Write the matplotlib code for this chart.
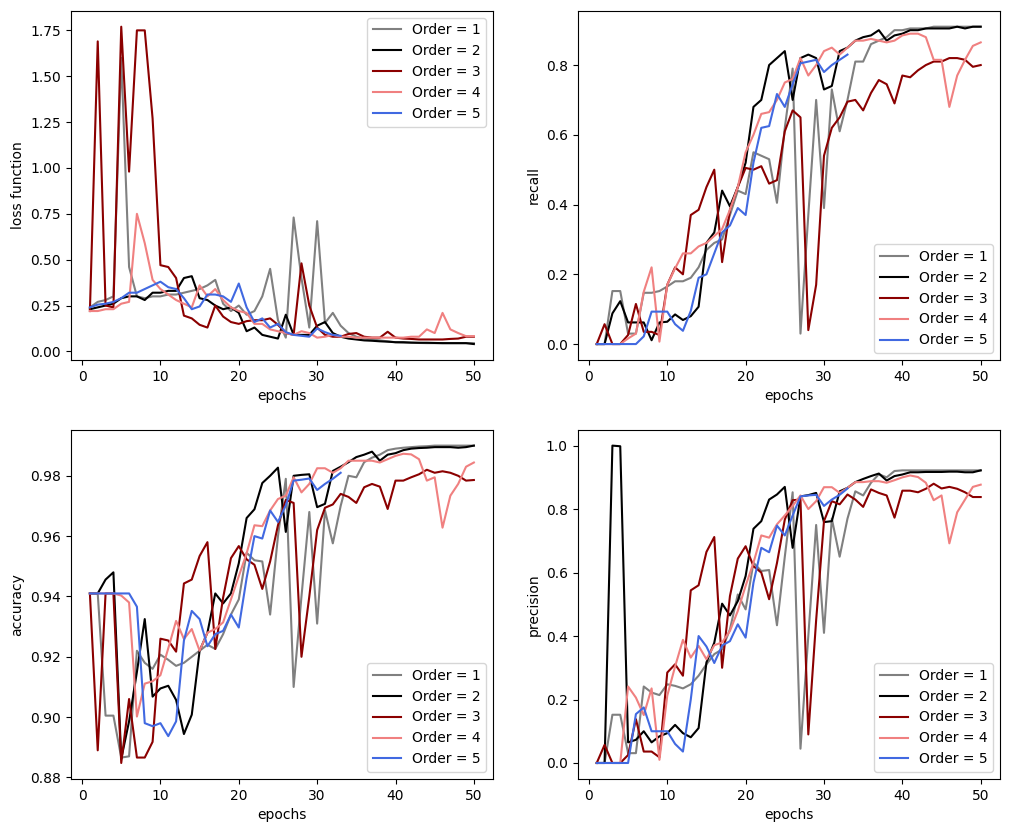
import matplotlib
matplotlib.use('Agg')
from matplotlib import pyplot as plt

epochs = list(range(1, 51))
epochs_short = list(range(1, 34))

order_labels = ['Order = 1', 'Order = 2', 'Order = 3', 'Order = 4', 'Order = 5']
order_colors = ['gray', 'black', 'darkred', 'lightcoral', 'royalblue']

# loss function
loss_1 = [0.24, 0.27, 0.28, 0.30, 1.60, 0.46, 0.30, 0.29, 0.30, 0.30,
          0.31, 0.31, 0.32, 0.33, 0.34, 0.36, 0.39, 0.26, 0.22, 0.25,
          0.20, 0.22, 0.30, 0.45, 0.17, 0.075, 0.73, 0.40, 0.13, 0.71,
          0.155, 0.21, 0.14, 0.10, 0.08, 0.07, 0.065, 0.06, 0.055, 0.05,
          0.048, 0.047, 0.046, 0.045, 0.045, 0.045, 0.045, 0.045, 0.045, 0.045]
loss_2 = [0.23, 0.24, 0.25, 0.26, 0.29, 0.30, 0.30, 0.28, 0.32, 0.32,
          0.33, 0.33, 0.40, 0.41, 0.29, 0.28, 0.25, 0.23, 0.24, 0.21,
          0.11, 0.13, 0.09, 0.08, 0.07, 0.20, 0.09, 0.09, 0.09, 0.14,
          0.16, 0.10, 0.08, 0.07, 0.065, 0.06, 0.058, 0.055, 0.053, 0.05,
          0.05, 0.048, 0.047, 0.047, 0.046, 0.045, 0.045, 0.045, 0.045, 0.04]
loss_3 = [0.22, 1.69, 0.25, 0.24, 1.77, 0.98, 1.75, 1.75, 1.27, 0.47,
          0.46, 0.40, 0.195, 0.18, 0.145, 0.13, 0.25, 0.19, 0.16, 0.15,
          0.165, 0.17, 0.17, 0.18, 0.145, 0.10, 0.09, 0.48, 0.25, 0.13,
          0.09, 0.08, 0.08, 0.095, 0.10, 0.08, 0.075, 0.075, 0.107, 0.075,
          0.07, 0.068, 0.065, 0.065, 0.065, 0.065, 0.068, 0.07, 0.08, 0.08]
loss_4 = [0.22, 0.22, 0.23, 0.23, 0.26, 0.27, 0.75, 0.59, 0.39, 0.34,
          0.31, 0.28, 0.26, 0.24, 0.36, 0.30, 0.34, 0.28, 0.24, 0.22,
          0.21, 0.15, 0.15, 0.12, 0.11, 0.10, 0.09, 0.11, 0.10, 0.075,
          0.08, 0.09, 0.08, 0.08, 0.075, 0.075, 0.075, 0.075, 0.075, 0.075,
          0.075, 0.08, 0.08, 0.12, 0.10, 0.21, 0.12, 0.10, 0.083, 0.083]
loss_5 = [0.24, 0.255, 0.26, 0.27, 0.29, 0.32, 0.32, 0.34, 0.36, 0.38,
          0.35, 0.34, 0.29, 0.23, 0.245, 0.31, 0.31, 0.30, 0.27, 0.37,
          0.24, 0.16, 0.18, 0.13, 0.15, 0.105, 0.09, 0.085, 0.08, 0.125,
          0.105, 0.09, 0.085]

# recall
recall_1 = [0, 0, 0.152, 0.152, 0.03, 0.03, 0.147, 0.147, 0.152, 0.165,
            0.18, 0.18, 0.19, 0.22, 0.27, 0.29, 0.30, 0.37, 0.44, 0.43,
            0.55, 0.54, 0.53, 0.405, 0.62, 0.79, 0.03, 0.37, 0.70, 0.39,
            0.73, 0.61, 0.70, 0.81, 0.81, 0.86, 0.87, 0.88, 0.90, 0.90,
            0.905, 0.905, 0.905, 0.91, 0.91, 0.91, 0.91, 0.91, 0.91, 0.91]
recall_2 = [0, 0, 0.088, 0.123, 0.062, 0.062, 0.062, 0.011, 0.062, 0.064,
            0.085, 0.069, 0.08, 0.107, 0.29, 0.32, 0.44, 0.395, 0.45, 0.52,
            0.68, 0.70, 0.80, 0.82, 0.84, 0.70, 0.82, 0.83, 0.82, 0.73,
            0.74, 0.84, 0.85, 0.87, 0.88, 0.885, 0.90, 0.87, 0.885, 0.89,
            0.90, 0.90, 0.905, 0.905, 0.905, 0.905, 0.91, 0.905, 0.91, 0.91]
recall_3 = [0, 0.057, 0, 0, 0.026, 0.115, 0.035, 0.035, 0.026, 0.17,
            0.22, 0.20, 0.37, 0.385, 0.45, 0.50, 0.235, 0.385, 0.45, 0.505,
            0.50, 0.51, 0.46, 0.47, 0.61, 0.67, 0.65, 0.04, 0.17, 0.54,
            0.62, 0.65, 0.695, 0.70, 0.67, 0.72, 0.757, 0.745, 0.69, 0.77,
            0.765, 0.785, 0.80, 0.81, 0.81, 0.82, 0.82, 0.815, 0.795, 0.80]
recall_4 = [0, 0, 0, 0, 0.016, 0.03, 0.15, 0.22, 0.007, 0.17,
            0.217, 0.26, 0.26, 0.28, 0.29, 0.31, 0.33, 0.385, 0.45, 0.55,
            0.60, 0.66, 0.665, 0.70, 0.75, 0.76, 0.82, 0.77, 0.80, 0.84,
            0.85, 0.83, 0.85, 0.87, 0.87, 0.875, 0.87, 0.865, 0.87, 0.885,
            0.89, 0.89, 0.88, 0.815, 0.815, 0.68, 0.77, 0.815, 0.855, 0.865]
recall_5 = [0, 0, 0, 0, 0, 0, 0.022, 0.093, 0.093, 0.093,
            0.057, 0.038, 0.095, 0.19, 0.20, 0.26, 0.32, 0.34, 0.39, 0.37,
            0.52, 0.62, 0.625, 0.717, 0.68, 0.745, 0.805, 0.81, 0.815, 0.78,
            0.80, 0.815, 0.83]

# accuracy
acc_1 = [0.941, 0.941, 0.9005, 0.9005, 0.8866, 0.887, 0.922, 0.918, 0.916, 0.9207,
         0.919, 0.917, 0.918, 0.920, 0.922, 0.924, 0.9226, 0.9275, 0.934, 0.939,
         0.9545, 0.952, 0.9516, 0.934, 0.960, 0.979, 0.910, 0.940, 0.968, 0.931,
         0.9685, 0.9576, 0.970, 0.980, 0.9795, 0.9845, 0.986, 0.987, 0.9885, 0.989,
         0.9893, 0.9895, 0.9897, 0.9898, 0.990, 0.990, 0.990, 0.990, 0.990, 0.990]
acc_2 = [0.941, 0.941, 0.9456, 0.948, 0.8862, 0.8986, 0.915, 0.9325, 0.9068, 0.9095,
         0.9104, 0.9057, 0.8944, 0.9008, 0.922, 0.928, 0.941, 0.9377, 0.941, 0.951,
         0.966, 0.9689, 0.9776, 0.980, 0.9827, 0.9614, 0.980, 0.9803, 0.9805, 0.9696,
         0.9707, 0.9816, 0.983, 0.9845, 0.9862, 0.987, 0.988, 0.985, 0.987, 0.9875,
         0.9885, 0.989, 0.9892, 0.9893, 0.9895, 0.9895, 0.9895, 0.9893, 0.9895, 0.990]
acc_3 = [0.941, 0.889, 0.941, 0.941, 0.8848, 0.906, 0.8866, 0.8866, 0.8918, 0.926,
         0.9254, 0.9217, 0.9443, 0.9456, 0.9534, 0.958, 0.9226, 0.9396, 0.9527, 0.9567,
         0.9523, 0.9505, 0.9425, 0.9516, 0.9636, 0.972, 0.971, 0.920, 0.940, 0.962,
         0.9694, 0.9705, 0.974, 0.973, 0.971, 0.9762, 0.9773, 0.9764, 0.969, 0.9784,
         0.9784, 0.9795, 0.9805, 0.982, 0.981, 0.9815, 0.981, 0.980, 0.9784, 0.9786]
acc_4 = [0.941, 0.941, 0.941, 0.941, 0.9403, 0.938, 0.9002, 0.9111, 0.9119, 0.9139,
         0.9228, 0.9319, 0.9259, 0.9292, 0.922, 0.928, 0.9292, 0.9314, 0.939, 0.9467,
         0.9543, 0.9636, 0.9633, 0.9685, 0.9723, 0.9734, 0.9795, 0.9745, 0.9773, 0.9825,
         0.9825, 0.981, 0.9825, 0.985, 0.985, 0.985, 0.985, 0.9844, 0.9855, 0.9866,
         0.9873, 0.9871, 0.9855, 0.9784, 0.9795, 0.9628, 0.9734, 0.9773, 0.983, 0.9844]
acc_5 = [0.941, 0.941, 0.941, 0.941, 0.941, 0.941, 0.9366, 0.898, 0.897, 0.898,
         0.8937, 0.8986, 0.9254, 0.9352, 0.9325, 0.9235, 0.9275, 0.9286, 0.934, 0.9297,
         0.9461, 0.960, 0.9592, 0.9685, 0.9647, 0.9702, 0.9784, 0.9787, 0.9791, 0.9753,
         0.9773, 0.979, 0.981]

# precision
prec_1 = [0, 0, 0.152, 0.152, 0.031, 0.031, 0.241, 0.222, 0.214, 0.248,
          0.243, 0.235, 0.248, 0.275, 0.311, 0.343, 0.358, 0.421, 0.531, 0.484,
          0.631, 0.605, 0.608, 0.434, 0.65, 0.853, 0.045, 0.40, 0.75, 0.41,
          0.77, 0.65, 0.77, 0.856, 0.843, 0.883, 0.91, 0.90, 0.92, 0.922,
          0.922, 0.922, 0.922, 0.922, 0.922, 0.922, 0.922, 0.922, 0.922, 0.922]
prec_2 = [0, 0, 1.0, 0.998, 0.065, 0.073, 0.10, 0.065, 0.084, 0.094,
          0.12, 0.094, 0.081, 0.11, 0.317, 0.379, 0.502, 0.465, 0.51, 0.589,
          0.738, 0.762, 0.83, 0.846, 0.87, 0.678, 0.84, 0.844, 0.851, 0.759,
          0.762, 0.856, 0.867, 0.885, 0.895, 0.904, 0.912, 0.89, 0.904, 0.909,
          0.916, 0.916, 0.917, 0.917, 0.917, 0.918, 0.918, 0.916, 0.916, 0.922]
prec_3 = [0, 0.057, 0, 0, 0.025, 0.138, 0.036, 0.036, 0.018, 0.285,
          0.311, 0.275, 0.544, 0.56, 0.665, 0.712, 0.30, 0.526, 0.644, 0.683,
          0.62, 0.60, 0.516, 0.63, 0.767, 0.828, 0.83, 0.09, 0.45, 0.762,
          0.825, 0.815, 0.846, 0.83, 0.807, 0.862, 0.851, 0.843, 0.773, 0.858,
          0.858, 0.853, 0.864, 0.88, 0.865, 0.87, 0.864, 0.853, 0.838, 0.838]
prec_4 = [0, 0, 0, 0, 0.241, 0.206, 0.151, 0.235, 0.01, 0.212,
          0.304, 0.388, 0.332, 0.369, 0.327, 0.371, 0.38, 0.416, 0.479, 0.558,
          0.631, 0.717, 0.71, 0.752, 0.78, 0.81, 0.843, 0.80, 0.825, 0.869,
          0.869, 0.851, 0.867, 0.885, 0.885, 0.888, 0.888, 0.883, 0.891, 0.90,
          0.906, 0.901, 0.883, 0.828, 0.843, 0.692, 0.79, 0.83, 0.87, 0.877]
prec_5 = [0, 0, 0, 0, 0, 0.154, 0.175, 0.10, 0.10, 0.10,
          0.06, 0.036, 0.20, 0.40, 0.367, 0.315, 0.37, 0.384, 0.437, 0.395,
          0.568, 0.678, 0.664, 0.748, 0.717, 0.78, 0.84, 0.843, 0.845, 0.81,
          0.83, 0.845, 0.865]


def plot_panel(ax, series, ylabel, legend_loc):
    for values, label, color in zip(series, order_labels, order_colors):
        x = epochs if len(values) == len(epochs) else epochs_short
        ax.plot(x, values, color=color, label=label)
    ax.set_xlabel('epochs')
    ax.set_ylabel(ylabel)
    ax.legend(loc=legend_loc)


fig, axes = plt.subplots(2, 2, figsize=(10.1, 8.33), dpi=100)
plt.subplots_adjust(left=0.07, right=0.99, bottom=0.065, top=0.987, wspace=0.2, hspace=0.2)

plot_panel(axes[0][0], [loss_1, loss_2, loss_3, loss_4, loss_5], 'loss function', 'upper right')
plot_panel(axes[0][1], [recall_1, recall_2, recall_3, recall_4, recall_5], 'recall', 'lower right')
plot_panel(axes[1][0], [acc_1, acc_2, acc_3, acc_4, acc_5], 'accuracy', 'lower right')
plot_panel(axes[1][1], [prec_1, prec_2, prec_3, prec_4, prec_5], 'precision', 'lower right')

fig.savefig('out.png')
plt.close()
